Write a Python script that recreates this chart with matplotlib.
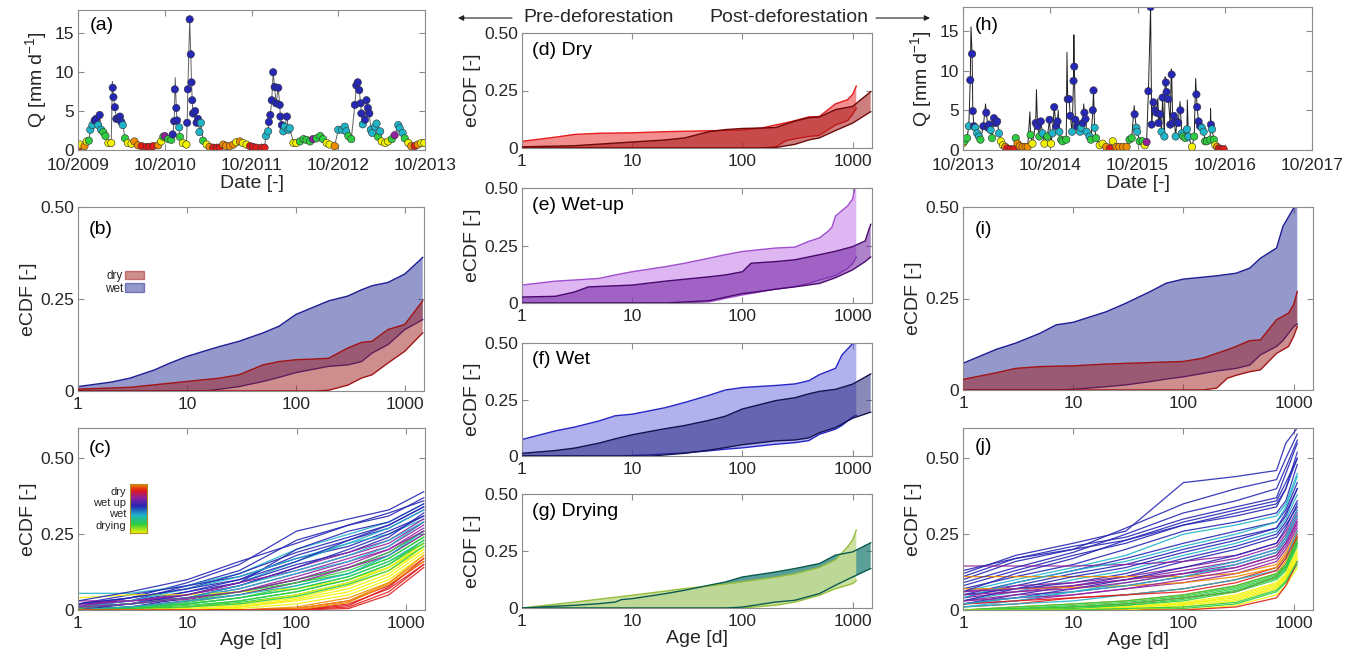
import numpy as np
import matplotlib.pyplot as plt
from matplotlib.colors import LinearSegmentedColormap
from matplotlib.patches import Patch
from matplotlib.ticker import NullLocator

plt.rcParams['font.family'] = ['Liberation Sans', 'DejaVu Sans']
plt.rcParams['mathtext.default'] = 'regular'

# ---------------- data ----------------
# season codes: y=drying(late) g=drying c=drying(early) b=wet p=wet up r=dry o=dry(late)
SEASON = {'y': 0.0, 'g': 0.18, 'c': 0.36, 'b': 0.55, 'p': 0.72, 'r': 0.87, 'o': 1.0}

# (a) pre-deforestation discharge, months since 10/2009
a_month = [0.0, 0.3, 0.9, 1.2, 1.5, 1.7, 2.0, 2.3, 2.5, 2.8, 3.0, 3.2,
           3.5, 3.8, 4.2, 4.6, 4.8, 4.9, 5.1, 5.3, 5.6, 5.8, 6.0, 6.2,
           6.5, 6.9, 7.4, 7.8, 8.3, 8.8, 9.5, 9.9, 10.4, 11.1, 11.5, 11.8,
           12.0, 12.5, 12.9, 13.1, 13.3, 13.4, 13.6, 13.7, 14.0, 14.1, 14.5, 15.0,
           15.1, 15.2, 15.45, 15.6, 15.7, 15.8, 15.9, 16.2, 16.4, 16.6, 16.8, 17.0,
           17.3, 17.8, 18.2, 18.7, 19.2, 19.6, 20.1, 20.5, 21.0, 21.5, 21.9, 22.4,
           22.8, 23.3, 23.8, 24.2, 24.7, 25.4, 25.8, 26.0, 26.3, 26.4, 26.6, 26.8,
           27.0, 27.2, 27.4, 27.7, 27.9, 28.0, 28.2, 28.4, 28.6, 28.9, 29.1, 29.3,
           29.8, 30.2, 30.7, 31.2, 31.6, 32.1, 32.5, 33.0, 33.5, 33.9, 34.4, 34.8,
           35.5, 36.0, 36.5, 36.9, 37.1, 37.4, 37.8, 38.3, 38.5, 38.7, 38.9, 39.1,
           39.2, 39.4, 39.7, 39.9, 40.1, 40.3, 40.5, 40.7, 41.1, 41.3, 41.5, 41.8,
           42.0, 42.5, 42.9, 43.4, 43.8, 44.3, 44.5, 44.9, 45.2, 45.7, 46.1, 46.6,
           47.0, 47.5, 47.9]
a_q = [0.2, 0.7, 0.5, 1.1, 1.2, 2.6, 3.2, 3.8, 4.0, 3.2, 4.5, 2.6,
       2.3, 1.8, 0.9, 0.9, 8.0, 6.8, 5.5, 4.0, 4.0, 4.3, 3.6, 3.2,
       1.5, 0.9, 0.8, 1.1, 0.6, 0.5, 0.4, 0.4, 0.5, 0.6, 1.1, 1.7,
       1.8, 1.4, 1.3, 2.0, 3.7, 7.8, 5.4, 3.8, 2.9, 1.7, 0.9, 0.7,
       3.5, 7.8, 16.8, 12.3, 8.7, 6.4, 4.7, 5.0, 3.5, 4.0, 2.3, 3.5,
       1.2, 0.7, 0.4, 0.3, 0.3, 0.3, 0.7, 0.5, 0.5, 0.7, 1.0, 1.1,
       0.9, 0.7, 0.5, 0.4, 0.3, 0.3, 0.3, 1.8, 2.4, 3.6, 4.5, 6.4,
       10.0, 8.1, 6.0, 8.0, 5.8, 4.3, 3.2, 2.4, 3.0, 4.3, 2.6, 2.8,
       0.9, 0.9, 1.1, 1.4, 1.3, 1.1, 1.4, 1.5, 1.8, 1.4, 0.9, 0.7,
       0.5, 2.6, 2.6, 3.0, 2.4, 1.8, 1.4, 5.8, 8.3, 8.7, 7.7, 6.0,
       4.7, 3.3, 3.9, 6.4, 5.4, 4.7, 2.6, 2.2, 3.0, 3.4, 1.7, 2.4,
       1.1, 0.9, 1.1, 1.4, 1.9, 3.2, 2.8, 2.2, 1.5, 0.9, 0.5, 0.5,
       0.7, 0.9, 0.9]
a_season = ("ryoygccbbcbc" "ggyybbbbbbbc" "gyyoorrrroyg" "pggbbbbbcgyy"
            "bbbbbbbbbbcc" "gyorrrooooyo" "yyrrrrrccbbb" "bbbbbbbccbcc"
            "yyggggpgggyy" "occccggbbbbb" "bcbbbbccccgc" "yyygpcccgyor" "oyy")
a_spike_month = [4.75, 13.45, 38.6]
a_spike_q = [8.8, 9.3, 8.8]
a_ticklabels = ['10/2009', '10/2010', '10/2011', '10/2012', '10/2013']

# (h) post-deforestation discharge, months since 10/2013
h_month = [0.0, 0.2, 0.55, 0.8, 1.0, 1.25, 1.35, 1.5, 1.7, 1.95, 2.2, 2.4,
           2.8, 3.2, 3.45, 3.6, 3.8, 4.0, 4.25, 4.5, 4.7, 4.95, 5.2, 5.5,
           5.8, 6.1, 6.55, 7.0, 7.25, 7.5, 7.8, 8.2, 8.6, 8.9, 9.3, 9.55,
           10.0, 10.25, 10.5, 10.7, 10.95, 11.2, 11.6, 11.9, 12.1, 12.3, 12.55, 12.8,
           13.0, 13.25, 13.5, 13.7, 14.2, 14.4, 14.6, 14.75, 15.0, 15.2, 15.3, 15.45,
           15.65, 15.9, 16.1, 16.25, 16.5, 16.7, 16.85, 17.0, 17.4, 17.6, 17.85, 17.95,
           18.1, 18.3, 18.8, 19.2, 19.7, 20.2, 20.6, 21.1, 21.5, 22.0, 22.5, 22.9,
           23.2, 23.6, 23.85, 23.95, 24.3, 24.7, 25.0, 25.25, 25.5, 25.8, 25.95, 26.2,
           26.4, 26.6, 26.9, 27.1, 27.3, 27.45, 27.7, 27.9, 28.0, 28.25, 28.5, 28.7,
           28.85, 29.0, 29.25, 29.4, 29.6, 29.9, 30.1, 30.3, 30.6, 30.8, 31.0, 31.5,
           31.8, 32.1, 32.2, 32.4, 32.6, 32.85, 33.1, 33.3, 33.55, 34.0, 34.1, 34.25,
           34.5, 34.7, 34.95, 35.2, 35.5, 35.85]
h_q = [0.85, 1.1, 1.5, 3.0, 8.8, 12.1, 4.9, 3.0, 2.8, 2.1, 1.7, 1.3,
       3.0, 4.7, 2.8, 3.2, 2.5, 1.5, 4.0, 3.4, 3.6, 2.1, 1.1, 0.6,
       0.4, 0.2, 0.1, 0.1, 1.5, 0.8, 0.5, 0.4, 0.4, 0.4, 1.9, 0.8,
       3.4, 3.0, 1.7, 3.6, 2.1, 0.8, 1.7, 3.8, 0.8, 2.1, 5.4, 3.0,
       3.6, 2.3, 1.3, 1.1, 1.3, 6.4, 6.4, 4.3, 2.3, 8.7, 10.5, 3.8,
       3.0, 3.2, 2.3, 2.8, 3.4, 4.7, 3.9, 2.3, 1.7, 1.3, 5.0, 7.5,
       2.8, 1.5, 0.6, 0.8, 0.4, 0.2, 1.1, 0.4, 0.4, 0.4, 0.4, 1.3,
       1.5, 4.5, 2.8, 2.3, 1.1, 1.1, 0.6, 1.0, 7.4, 18.0, 3.2, 6.0,
       5.0, 4.7, 3.4, 4.5, 2.3, 6.6, 1.7, 8.5, 7.3, 6.4, 3.2, 9.5,
       3.4, 4.3, 1.7, 3.6, 3.4, 5.0, 2.1, 1.7, 1.5, 2.6, 1.7, 0.4,
       1.7, 7.0, 5.4, 3.6, 3.0, 2.8, 2.3, 1.1, 1.1, 1.3, 3.2, 2.6,
       1.3, 0.6, 0.4, 0.2, 0.1, 0.1]
h_season = ("yggcbbbbcccg" "bbbbcgbbbcyy" "orrrgooooogy" "bbgbcygbycbb"
            "bcgggbbbcbbb" "bbccbbbccgbb" "cgyyoryoooog" "gbccggypbbbb"
            "bbbbcbcbbbbb" "bbcbbbcggccy" "gbbbbccgggbc" "gyorrr")
h_spike_month = [1.1, 3.1, 9.2, 10.1, 13.1, 14.3, 15.25, 16.6, 23.55, 26.8,
                 27.8, 28.65, 29.85, 30.85, 32.0, 34.05]
h_spike_q = [15.5, 5.8, 4.8, 7.6, 5.0, 12.3, 14.5, 5.8, 5.6, 6.5,
             9.2, 10.2, 6.1, 6.3, 9.0, 5.2]
h_ticklabels = ['10/2013', '10/2014', '10/2015', '10/2016', '10/2017']

# eCDF envelopes (min / max over sampling days) by season
pre_dry_age = [1, 3, 10, 20, 30, 50, 70, 100, 150, 200, 300, 400, 500, 700, 1000, 1460]
pre_dry_hi = [0.005, 0.01, 0.026, 0.035, 0.044, 0.071, 0.080, 0.085, 0.087, 0.089,
              0.117, 0.132, 0.135, 0.167, 0.181, 0.245]
pre_dry_lo = [0, 0, 0, 0, 0, 0, 0, 0, 0, 0.002, 0.016, 0.035, 0.044, 0.076, 0.108, 0.158]

pre_wet_age = [1, 2, 3, 5, 7, 10, 15, 20, 30, 50, 70, 100, 200, 300, 400, 500, 700, 1000, 1460]
pre_wet_hi = [0.012, 0.024, 0.035, 0.057, 0.076, 0.094, 0.110, 0.121, 0.135, 0.158,
              0.176, 0.208, 0.245, 0.258, 0.275, 0.286, 0.295, 0.318, 0.363]
pre_wet_lo = [0, 0, 0, 0, 0, 0, 0, 0.005, 0.012, 0.026, 0.037, 0.050, 0.067, 0.071,
              0.080, 0.103, 0.126, 0.167, 0.194]

post_dry_age = [1, 2, 3, 5, 10, 20, 50, 100, 150, 200, 250, 300, 400, 500, 700, 900, 1000, 1080]
post_dry_hi = [0.029, 0.047, 0.059, 0.064, 0.066, 0.071, 0.075, 0.078, 0.087, 0.100,
               0.110, 0.119, 0.135, 0.137, 0.192, 0.210, 0.233, 0.269]
post_dry_lo = [0, 0, 0, 0, 0, 0, 0, 0, 0, 0.005, 0.032, 0.040, 0.050, 0.055, 0.100,
               0.119, 0.146, 0.173]

post_wet_age = [1, 2, 3, 5, 7, 10, 20, 30, 50, 70, 100, 200, 300, 400, 500, 700, 800, 1000, 1080]
post_wet_hi = [0.073, 0.111, 0.128, 0.155, 0.178, 0.185, 0.214, 0.237, 0.269, 0.292,
               0.303, 0.312, 0.319, 0.333, 0.360, 0.388, 0.447, 0.497, 0.55]
post_wet_lo = [0, 0, 0, 0, 0, 0.002, 0.009, 0.014, 0.023, 0.030, 0.036, 0.052, 0.059,
               0.068, 0.096, 0.119, 0.135, 0.173, 0.180]

pre_wetup_age = [1, 2, 3, 4, 10, 20, 50, 70, 100, 120, 200, 300, 500, 700, 1000, 1300, 1460]
pre_wetup_hi = [0.026, 0.029, 0.048, 0.070, 0.078, 0.095, 0.114, 0.122, 0.136, 0.173,
                0.180, 0.188, 0.210, 0.225, 0.245, 0.27, 0.342]
pre_wetup_lo = [0, 0, 0, 0, 0, 0, 0.010, 0.025, 0.041, 0.045, 0.060, 0.070, 0.085,
                0.110, 0.144, 0.180, 0.200]

post_wetup_age = [1, 2, 3, 5, 7, 10, 20, 30, 50, 70, 100, 200, 300, 400, 500, 600, 650,
                  700, 900, 1000, 1080]
post_wetup_hi = [0.078, 0.095, 0.100, 0.107, 0.122, 0.136, 0.158, 0.173, 0.195, 0.210,
                 0.224, 0.239, 0.243, 0.268, 0.283, 0.312, 0.330, 0.378, 0.422, 0.452, 0.53]
post_wetup_lo = [0, 0, 0, 0, 0, 0, 0, 0, 0.005, 0.020, 0.035, 0.060, 0.072, 0.085, 0.100,
                 0.110, 0.115, 0.120, 0.150, 0.170, 0.200]

pre_drying_age = [1, 3, 5, 7, 8, 10, 20, 30, 50, 70, 100, 200, 300, 500, 700, 1000, 1460]
pre_drying_hi = [0, 0.012, 0.019, 0.026, 0.037, 0.041, 0.063, 0.078, 0.100, 0.114,
                 0.136, 0.158, 0.173, 0.195, 0.232, 0.246, 0.286]
pre_drying_lo = [0, 0, 0, 0, 0, 0, 0, 0, 0, 0, 0.004, 0.026, 0.034, 0.063, 0.100, 0.136, 0.173]

post_drying_age = [1, 3, 10, 30, 70, 100, 200, 300, 500, 700, 900, 1000, 1080]
post_drying_hi = [0, 0.026, 0.056, 0.085, 0.105, 0.115, 0.135, 0.150, 0.178, 0.212, 0.268,
                  0.298, 0.342]
post_drying_lo = [0, 0, 0, 0, 0, 0, 0.012, 0.026, 0.056, 0.085, 0.100, 0.107, 0.120]

# (c) individual eCDFs, pre-deforestation
c_age = [1, 3, 10, 30, 100, 300, 700, 1460]
c_season = "bbcbbbcbppppcggcgggyyyyorrror" "bbcbppggcgyygorbcp"
c_curves = [
    [0.02, 0.04, 0.09, 0.15, 0.26, 0.30, 0.33, 0.39],
    [0.02, 0.03, 0.08, 0.13, 0.23, 0.28, 0.31, 0.37],
    [0.055, 0.055, 0.08, 0.12, 0.20, 0.25, 0.29, 0.35],
    [0.01, 0.04, 0.07, 0.12, 0.19, 0.24, 0.28, 0.34],
    [0.01, 0.02, 0.06, 0.10, 0.18, 0.23, 0.27, 0.33],
    [0.02, 0.05, 0.08, 0.11, 0.17, 0.21, 0.26, 0.31],
    [0.01, 0.02, 0.05, 0.09, 0.16, 0.22, 0.25, 0.30],
    [0.01, 0.03, 0.06, 0.09, 0.15, 0.19, 0.24, 0.32],
    [0.02, 0.03, 0.05, 0.08, 0.14, 0.19, 0.23, 0.30],
    [0.01, 0.02, 0.04, 0.07, 0.12, 0.17, 0.21, 0.28],
    [0.005, 0.02, 0.035, 0.06, 0.11, 0.16, 0.20, 0.27],
    [0.03, 0.03, 0.04, 0.06, 0.10, 0.14, 0.19, 0.26],
    [0.01, 0.02, 0.04, 0.07, 0.12, 0.16, 0.21, 0.29],
    [0.005, 0.01, 0.03, 0.06, 0.10, 0.14, 0.19, 0.26],
    [0.0, 0.01, 0.025, 0.05, 0.09, 0.13, 0.18, 0.25],
    [0.0, 0.01, 0.02, 0.04, 0.07, 0.11, 0.16, 0.23],
    [0.0, 0.005, 0.02, 0.04, 0.08, 0.12, 0.17, 0.24],
    [0.0, 0.005, 0.015, 0.03, 0.06, 0.10, 0.15, 0.22],
    [0.0, 0.0, 0.01, 0.025, 0.05, 0.09, 0.14, 0.21],
    [0.0, 0.0, 0.005, 0.015, 0.04, 0.08, 0.13, 0.20],
    [0.0, 0.0, 0.0, 0.01, 0.03, 0.06, 0.11, 0.19],
    [0.0, 0.0, 0.0, 0.005, 0.02, 0.05, 0.10, 0.18],
    [0.04, 0.05, 0.05, 0.06, 0.07, 0.10, 0.14, 0.22],
    [0.0, 0.0, 0.0, 0.0, 0.01, 0.04, 0.09, 0.17],
    [0.0, 0.0, 0.0, 0.0, 0.005, 0.03, 0.08, 0.16],
    [0.0, 0.0, 0.0, 0.0, 0.0, 0.02, 0.07, 0.15],
    [0.0, 0.0, 0.0, 0.0, 0.0, 0.01, 0.06, 0.15],
    [0.0, 0.0, 0.0, 0.0, 0.005, 0.03, 0.09, 0.18],
    [0.0, 0.0, 0.0, 0.0, 0.0, 0.015, 0.075, 0.17],
    [0.03, 0.06, 0.10, 0.16, 0.22, 0.28, 0.32, 0.36],
    [0.0, 0.02, 0.05, 0.09, 0.20, 0.26, 0.29, 0.35],
    [0.01, 0.03, 0.07, 0.11, 0.17, 0.22, 0.27, 0.33],
    [0.0, 0.01, 0.04, 0.08, 0.14, 0.20, 0.25, 0.31],
    [0.015, 0.03, 0.05, 0.09, 0.13, 0.18, 0.22, 0.29],
    [0.0, 0.01, 0.03, 0.05, 0.09, 0.14, 0.18, 0.25],
    [0.01, 0.02, 0.04, 0.06, 0.09, 0.12, 0.17, 0.24],
    [0.0, 0.01, 0.02, 0.04, 0.07, 0.11, 0.16, 0.22],
    [0.0, 0.01, 0.03, 0.05, 0.08, 0.12, 0.18, 0.26],
    [0.0, 0.0, 0.01, 0.03, 0.06, 0.10, 0.15, 0.23],
    [0.0, 0.0, 0.01, 0.02, 0.05, 0.09, 0.14, 0.21],
    [0.0, 0.0, 0.0, 0.01, 0.035, 0.07, 0.12, 0.20],
    [0.0, 0.005, 0.01, 0.02, 0.045, 0.085, 0.13, 0.21],
    [0.0, 0.0, 0.0, 0.0, 0.0, 0.025, 0.085, 0.16],
    [0.0, 0.0, 0.0, 0.0, 0.0, 0.005, 0.05, 0.14],
    [0.02, 0.04, 0.07, 0.10, 0.16, 0.23, 0.28, 0.34],
    [0.01, 0.02, 0.04, 0.08, 0.13, 0.18, 0.23, 0.29],
    [0.01, 0.02, 0.04, 0.06, 0.10, 0.15, 0.20, 0.26],
]

# (j) individual eCDFs, post-deforestation
j_age = [1, 3, 10, 30, 100, 300, 700, 850, 1080]
j_season = "bbbbbcbbcbbppppprooorcgggyyygyr" "bbcbbcpprpggyygcb"
j_curves = [
    [0.12, 0.18, 0.22, 0.26, 0.42, 0.44, 0.46, 0.55, 0.60],
    [0.10, 0.16, 0.20, 0.27, 0.35, 0.40, 0.43, 0.50, 0.58],
    [0.11, 0.17, 0.21, 0.24, 0.30, 0.34, 0.37, 0.45, 0.55],
    [0.08, 0.13, 0.18, 0.22, 0.28, 0.31, 0.34, 0.40, 0.52],
    [0.07, 0.11, 0.15, 0.20, 0.26, 0.29, 0.32, 0.36, 0.48],
    [0.06, 0.10, 0.14, 0.18, 0.25, 0.28, 0.31, 0.35, 0.45],
    [0.05, 0.09, 0.13, 0.17, 0.22, 0.26, 0.29, 0.33, 0.42],
    [0.04, 0.08, 0.12, 0.15, 0.20, 0.24, 0.27, 0.31, 0.40],
    [0.03, 0.06, 0.10, 0.13, 0.18, 0.22, 0.26, 0.30, 0.38],
    [0.05, 0.07, 0.09, 0.12, 0.17, 0.21, 0.25, 0.29, 0.36],
    [0.02, 0.05, 0.08, 0.11, 0.16, 0.20, 0.24, 0.28, 0.34],
    [0.145, 0.145, 0.145, 0.15, 0.16, 0.18, 0.22, 0.26, 0.33],
    [0.04, 0.06, 0.08, 0.10, 0.13, 0.16, 0.20, 0.24, 0.31],
    [0.03, 0.05, 0.06, 0.08, 0.11, 0.14, 0.18, 0.22, 0.29],
    [0.02, 0.03, 0.05, 0.07, 0.09, 0.12, 0.16, 0.20, 0.27],
    [0.06, 0.08, 0.09, 0.11, 0.14, 0.17, 0.21, 0.25, 0.32],
    [0.01, 0.02, 0.04, 0.05, 0.07, 0.10, 0.14, 0.18, 0.25],
    [0.11, 0.11, 0.11, 0.11, 0.11, 0.12, 0.15, 0.19, 0.26],
    [0.07, 0.07, 0.075, 0.08, 0.09, 0.11, 0.14, 0.18, 0.24],
    [0.0, 0.01, 0.02, 0.03, 0.05, 0.08, 0.12, 0.16, 0.23],
    [0.0, 0.0, 0.01, 0.02, 0.04, 0.06, 0.11, 0.15, 0.22],
    [0.01, 0.02, 0.03, 0.05, 0.07, 0.10, 0.13, 0.17, 0.26],
    [0.0, 0.01, 0.02, 0.03, 0.05, 0.08, 0.12, 0.15, 0.24],
    [0.0, 0.005, 0.01, 0.02, 0.04, 0.07, 0.11, 0.14, 0.22],
    [0.0, 0.0, 0.01, 0.015, 0.03, 0.06, 0.10, 0.13, 0.21],
    [0.0, 0.0, 0.005, 0.01, 0.025, 0.05, 0.09, 0.12, 0.20],
    [0.0, 0.0, 0.0, 0.005, 0.02, 0.04, 0.08, 0.11, 0.18],
    [0.0, 0.0, 0.0, 0.0, 0.01, 0.03, 0.07, 0.10, 0.17],
    [0.0, 0.0, 0.0, 0.0, 0.005, 0.02, 0.06, 0.09, 0.15],
    [0.0, 0.0, 0.0, 0.0, 0.0, 0.015, 0.05, 0.08, 0.14],
    [0.0, 0.0, 0.0, 0.0, 0.0, 0.01, 0.04, 0.08, 0.16],
    [0.09, 0.14, 0.19, 0.25, 0.32, 0.36, 0.40, 0.47, 0.56],
    [0.06, 0.12, 0.17, 0.23, 0.29, 0.33, 0.36, 0.42, 0.50],
    [0.04, 0.09, 0.13, 0.16, 0.21, 0.25, 0.29, 0.34, 0.44],
    [0.03, 0.07, 0.11, 0.14, 0.19, 0.23, 0.27, 0.32, 0.40],
    [0.02, 0.04, 0.07, 0.10, 0.14, 0.18, 0.22, 0.27, 0.35],
    [0.01, 0.03, 0.06, 0.09, 0.12, 0.16, 0.20, 0.24, 0.33],
    [0.05, 0.06, 0.07, 0.09, 0.12, 0.15, 0.19, 0.23, 0.30],
    [0.03, 0.04, 0.05, 0.07, 0.10, 0.13, 0.17, 0.21, 0.28],
    [0.02, 0.03, 0.04, 0.05, 0.06, 0.09, 0.13, 0.17, 0.24],
    [0.06, 0.07, 0.08, 0.10, 0.12, 0.14, 0.18, 0.22, 0.29],
    [0.0, 0.005, 0.015, 0.025, 0.045, 0.075, 0.115, 0.145, 0.23],
    [0.0, 0.0, 0.005, 0.015, 0.035, 0.065, 0.105, 0.135, 0.22],
    [0.0, 0.0, 0.0, 0.01, 0.02, 0.045, 0.085, 0.115, 0.19],
    [0.0, 0.0, 0.0, 0.0, 0.015, 0.035, 0.075, 0.105, 0.17],
    [0.0, 0.0, 0.0, 0.005, 0.01, 0.025, 0.065, 0.095, 0.16],
    [0.02, 0.04, 0.06, 0.08, 0.11, 0.15, 0.19, 0.23, 0.31],
    [0.13, 0.17, 0.20, 0.23, 0.28, 0.32, 0.35, 0.40, 0.50],
]

age_ticks = [1, 10, 100, 1000]

# ---------------- style ----------------
TXT = '#262626'
SPINE = '#8c8c8c'
season_cmap = LinearSegmentedColormap.from_list('season', [
    (0.0, '#f2f200'), (0.18, '#2ecc40'), (0.36, '#1fb5c8'), (0.55, '#2626b4'),
    (0.72, '#9020a0'), (0.87, '#e01a1a'), (1.0, '#f08c00')])

W, H = 1358, 658
fig = plt.figure(figsize=(W / 100, H / 100), dpi=100)


def add_ax(x0, y0, x1, y1):
    return fig.add_axes([x0 / W, 1 - y1 / H, (x1 - x0) / W, (y1 - y0) / H])


def style(ax, xpad=3):
    for s in ax.spines.values():
        s.set_color(SPINE)
        s.set_linewidth(0.8)
    ax.tick_params(direction='in', top=True, right=True, length=4, width=0.8,
                   color=SPINE, labelsize=12.5, labelcolor=TXT, pad=3)
    ax.tick_params(axis='x', pad=xpad)


def panel_label(ax, txt, x, y):
    ax.text(x, y, txt, transform=ax.transAxes, fontsize=14, color='k', va='center')


def q_panel(ax, month, q, season, sp_m, sp_q, ticklabels, line_color):
    lm = np.concatenate([month, sp_m])
    lq = np.concatenate([q, sp_q])
    order = np.argsort(lm)
    ax.plot(lm[order], lq[order], color=line_color, lw=0.7, zorder=1)
    ax.scatter(month, q, c=[SEASON[k] for k in season], cmap=season_cmap, vmin=0, vmax=1,
               s=28, edgecolors='#303030', linewidths=0.4, zorder=2)
    ax.set_xlim(0, 48)
    ax.set_ylim(0, 18)
    ax.set_xticks([0, 12, 24, 36, 48])
    ax.set_xticklabels(ticklabels)
    ax.set_yticks([0, 5, 10, 15])
    ax.set_xlabel('Date [-]', fontsize=14, color=TXT, labelpad=1)
    ax.set_ylabel('Q [mm d$^{-1}$]', fontsize=14, color=TXT, labelpad=4)
    style(ax, xpad=6)


def ecdf_ax(ax, ymax=0.5, xlabel=False):
    ax.set_xscale('log')
    ax.set_xlim(1, 1500)
    ax.set_ylim(0, ymax)
    ax.set_xticks(age_ticks)
    ax.set_xticklabels([str(t) for t in age_ticks])
    ax.xaxis.set_minor_locator(NullLocator())
    ax.set_yticks([0, 0.25, 0.5])
    ax.set_yticklabels(['0', '0.25', '0.50'])
    ax.set_ylabel('eCDF [-]', fontsize=14, color=TXT, labelpad=2)
    if xlabel:
        ax.set_xlabel('Age [d]', fontsize=14, color=TXT, labelpad=1)
    style(ax, xpad=4)


def band(ax, age, lo, hi, face, alpha, edge, z, line_z=None):
    if line_z is None:
        line_z = z + 0.1
    ax.fill_between(age, lo, hi, facecolor=face, alpha=alpha, lw=0, zorder=z)
    ax.plot(age, hi, color=edge, lw=1.0, zorder=line_z)
    ax.plot(age, lo, color=edge, lw=1.0, zorder=line_z)


def spaghetti(ax, age, curves, season):
    for code, vals in zip(season, curves):
        ax.plot(age, vals, color=season_cmap(SEASON[code]), lw=0.9, alpha=0.9)


DRY_F, DRY_E = '#a01e1e', '#a01414'
WET_F, WET_E = '#2d3296', '#1e1e96'

# ---------------- (a) ----------------
ax_a = add_ax(78, 10, 425, 150)
q_panel(ax_a, a_month, a_q, a_season, a_spike_month, a_spike_q, a_ticklabels, '#606060')
panel_label(ax_a, '(a)', 0.035, 0.89)

# ---------------- (b) ----------------
ax_b = add_ax(78, 207, 424, 391)
band(ax_b, pre_wet_age, pre_wet_lo, pre_wet_hi, WET_F, 0.5, WET_E, 2)
band(ax_b, pre_dry_age, pre_dry_lo, pre_dry_hi, DRY_F, 0.5, DRY_E, 3)
ecdf_ax(ax_b)
panel_label(ax_b, '(b)', 0.03, 0.875)
leg = ax_b.legend([Patch(facecolor=DRY_F, alpha=0.5, edgecolor=DRY_E),
                   Patch(facecolor=WET_F, alpha=0.5, edgecolor=WET_E)],
                  ['dry', 'wet'], loc='upper left', bbox_to_anchor=(0.06, 0.69),
                  markerfirst=False, frameon=False, fontsize=8.5, handlelength=1.6,
                  handleheight=0.7, labelspacing=0.05, handletextpad=0.2, borderpad=0)
for t in leg.get_texts():
    t.set_color(TXT)

# ---------------- (c) ----------------
ax_c = add_ax(78, 428, 425, 610)
spaghetti(ax_c, c_age, c_curves, c_season)
ecdf_ax(ax_c, ymax=0.6, xlabel=True)
panel_label(ax_c, '(c)', 0.03, 0.89)

cax = add_ax(130, 484, 147, 533)
cax.imshow(np.linspace(0, 1, 256)[:, None], cmap=season_cmap, aspect='auto', origin='lower')
cax.set_xticks([])
cax.set_yticks([])
for s in cax.spines.values():
    s.set_color('#b09020')
    s.set_linewidth(0.8)
for lab, yy in zip(['dry', 'wet up', 'wet', 'drying'], [492, 503, 514, 526]):
    fig.text(126 / W, 1 - yy / H, lab, ha='right', va='center', fontsize=8, color=TXT)

# ---------------- (d) - (g) ----------------
ax_d = add_ax(522, 33, 872, 148)
band(ax_d, post_dry_age, post_dry_lo, post_dry_hi, '#e61e1e', 0.5, '#e61e1e', 2)
band(ax_d, pre_dry_age, pre_dry_lo, pre_dry_hi, '#a51414', 0.55, '#6e0a0a', 3)
ecdf_ax(ax_d)
panel_label(ax_d, '(d) Dry', 0.03, 0.85)

ax_e = add_ax(522, 188, 872, 303)
band(ax_e, post_wetup_age, post_wetup_lo, post_wetup_hi, '#be6ee6', 0.5, '#a050d0', 2)
band(ax_e, pre_wetup_age, pre_wetup_lo, pre_wetup_hi, '#6e1ea0', 0.55, '#4a0a6e', 3)
ecdf_ax(ax_e)
panel_label(ax_e, '(e) Wet-up', 0.03, 0.85)

ax_f = add_ax(522, 343, 872, 456)
band(ax_f, post_wet_age, post_wet_lo, post_wet_hi, '#6464dc', 0.5, '#2828c8', 2)
band(ax_f, pre_wet_age, pre_wet_lo, pre_wet_hi, '#282882', 0.55, '#141450', 3)
ecdf_ax(ax_f)
panel_label(ax_f, '(f) Wet', 0.03, 0.85)

ax_g = add_ax(522, 494, 872, 608)
band(ax_g, pre_drying_age, pre_drying_lo, pre_drying_hi, '#14786e', 0.7, '#0a5a50', 2, line_z=4)
band(ax_g, post_drying_age, post_drying_lo, post_drying_hi, '#c8de96', 0.9, '#96be3c', 3, line_z=3.5)
ecdf_ax(ax_g, xlabel=True)
panel_label(ax_g, '(g) Drying', 0.03, 0.85)

# ---------------- (h) ----------------
ax_h = add_ax(963, 7, 1312, 150)
q_panel(ax_h, h_month, h_q, h_season, h_spike_month, h_spike_q, h_ticklabels, '#202020')
panel_label(ax_h, '(h)', 0.034, 0.87)

# ---------------- (i) ----------------
ax_i = add_ax(963, 207, 1313, 390)
band(ax_i, post_wet_age, post_wet_lo, post_wet_hi, WET_F, 0.5, WET_E, 2)
band(ax_i, post_dry_age, post_dry_lo, post_dry_hi, DRY_F, 0.5, DRY_E, 3)
ecdf_ax(ax_i)
panel_label(ax_i, '(i)', 0.034, 0.875)

# ---------------- (j) ----------------
ax_j = add_ax(963, 428, 1313, 610)
spaghetti(ax_j, j_age, j_curves, j_season)
ecdf_ax(ax_j, ymax=0.6, xlabel=True)
panel_label(ax_j, '(j)', 0.034, 0.9)

# ---------------- header arrows ----------------
fig.text(523 / W, 1 - 18 / H, 'Pre-deforestation', fontsize=14, color=TXT, va='center')
fig.text(868 / W, 1 - 18 / H, 'Post-deforestation', fontsize=14, color=TXT, va='center', ha='right')
arrow = dict(arrowstyle='-|>', color='#202020', lw=0.8, mutation_scale=8, shrinkA=0, shrinkB=0)
fig.add_artist(plt.Annotation('', xy=(458 / W, 1 - 18 / H), xytext=(512 / W, 1 - 18 / H),
                              xycoords='figure fraction', arrowprops=arrow))
fig.add_artist(plt.Annotation('', xy=(930 / W, 1 - 18 / H), xytext=(876 / W, 1 - 18 / H),
                              xycoords='figure fraction', arrowprops=arrow))

fig.savefig('out.png', dpi=100)
